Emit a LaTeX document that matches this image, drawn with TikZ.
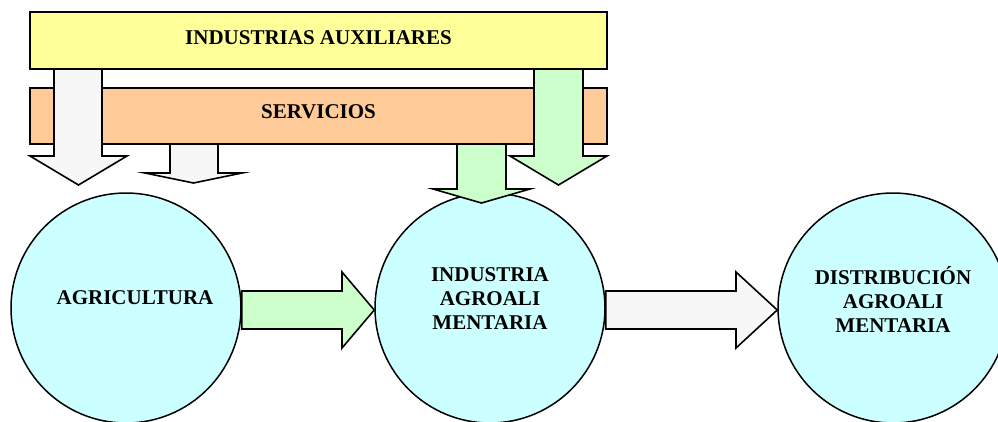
\documentclass[tikz,border=0pt]{standalone}
\usepackage{fontspec}
\setmainfont{Liberation Serif}
\usetikzlibrary{calc}
\definecolor{cyellow}{HTML}{FFFF99}
\definecolor{corange}{HTML}{FFCC99}
\definecolor{cgreen}{HTML}{CCFFCC}
\definecolor{cgray}{HTML}{F7F7F7}
\definecolor{ccyan}{HTML}{CCFFFF}
\begin{document}
\begin{tikzpicture}[x=1pt,y=-1pt,
  lbl/.style={font=\bfseries\fontsize{21}{24}\selectfont, align=center, inner sep=0pt},
  bar/.style={draw=black, line width=1.6pt, rectangle, minimum width=577pt, inner sep=0pt},
  circ/.style={draw=black, line width=1.5pt, circle, fill=ccyan, minimum size=230pt, inner sep=0pt},
  barrow/.style={draw=black, line width=1.6pt, line join=miter}]
\useasboundingbox (0,0) rectangle (998,421);
% bars
\node[bar, fill=cyellow, minimum height=57pt] (ia) at (318.5,40.5) {};
\node[lbl] (iatext) at (318.5,38) {INDUSTRIAS AUXILIARES};
\node[bar, fill=corange, minimum height=56pt] (serv) at (318.5,116) {};
\node[lbl] (servtext) at (318.5,112) {SERVICIOS};
% arrows from industrias auxiliares (over servicios)
\draw[barrow, fill=cgray] (54,69) -- (102,69) -- (102,156) -- (127,156) -- (78.5,185) -- (30,156) -- (54,156) -- cycle;
\draw[barrow, fill=cgreen] (534,69) -- (583,69) -- (583,156) -- (607,156) -- (558.5,185) -- (510,156) -- (534,156) -- cycle;
% circles
\node[circ] (agr) at (126,308) {};
\node[circ] (ind) at (490,308) {};
\node[circ] (dist) at (893,308) {};
\node[lbl] (agrtext) at (135,298) {AGRICULTURA};
\node[lbl] (indtext) at (490,299) {INDUSTRIA\\AGROALI\\MENTARIA};
\node[lbl] (disttext) at (893,299) {DISTRIBUCIÓN\\AGROALI\\MENTARIA};
% arrows from servicios
\draw[barrow, fill=cgray] (170,144) -- (218,144) -- (218,173) -- (242,173) -- (193.5,183) -- (145,173) -- (170,173) -- cycle;
\draw[barrow, fill=cgreen] (457,144) -- (506,144) -- (506,189) -- (530,189) -- (481.5,203) -- (433,189) -- (457,189) -- cycle;
% horizontal arrows
\draw[barrow, fill=cgreen] (agr.east |- 0,291) -- (342,291) -- (342,272) -- (ind.west |- 0,310) -- (342,348) -- (342,329) -- (agr.east |- 0,329) -- cycle;
\draw[barrow, fill=cgray] (ind.east |- 0,291) -- (736,291) -- (736,272) -- (dist.west |- 0,310) -- (736,348) -- (736,329) -- (ind.east |- 0,329) -- cycle;
\end{tikzpicture}
\end{document}
